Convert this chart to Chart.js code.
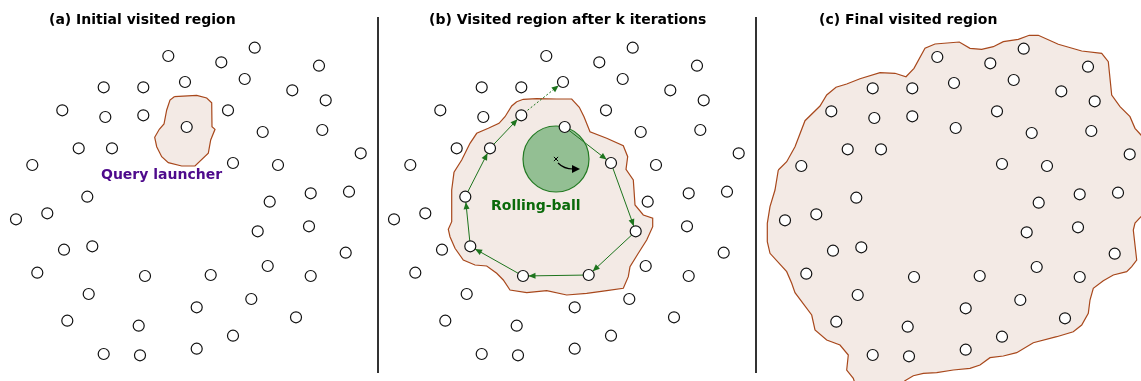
<!DOCTYPE html>
<html>
<head>
<meta charset="utf-8">
<script src="https://cdn.jsdelivr.net/npm/chart.js@4"></script>
<style>
  body { margin: 0; background: #fff; }
  #wrap { position: relative; width: 1141px; height: 381px; overflow: hidden; font-family: "DejaVu Sans", sans-serif; }
  canvas { position: absolute; top: 0; }
  .title { position: absolute; top: 11px; font-size: 14px; font-weight: bold; color: #000; white-space: nowrap; }
  .tag { position: absolute; font-size: 14px; font-weight: bold; white-space: nowrap; }
  .divider { position: absolute; top: 17px; width: 1.5px; height: 356px; background: #333; }
</style>
</head>
<body>
<div id="wrap">
  <canvas id="panelA" width="377" height="381" style="left:0"></canvas>
  <canvas id="panelB" width="377" height="381" style="left:378px"></canvas>
  <canvas id="panelC" width="385" height="381" style="left:756px"></canvas>
  <div class="divider" style="left:377px"></div>
  <div class="divider" style="left:755px"></div>
  <div class="title" style="left:49px">(a) Initial visited region</div>
  <div class="title" style="left:429px">(b) Visited region after k iterations</div>
  <div class="title" style="left:819px">(c) Final visited region</div>
  <div class="tag" style="left:101px; top:166px; color:#4e0a8c">Query launcher</div>
  <div class="tag" style="left:491px; top:197px; color:#0a6a0a">Rolling-ball</div>
</div>
<script>
// node positions (shared by all three panels, panel-local units)
const nodeX = [168.3, 254.7, 221.3, 319, 103.7, 143.3, 185, 244.7, 292.3, 325.7,
  62.3, 105.3, 143.3, 228, 186.7, 262.7, 322.3, 78.7, 112, 360.7,
  32.3, 233, 278, 310.7, 349, 87.3, 269.7, 16, 47.3, 257.7,
  309, 345.7, 64, 92.3, 37.3, 145, 210.7, 267.7, 310.7, 88.7,
  196.7, 251.3, 296, 67.3, 138.7, 233, 103.7, 140, 196.7];
const nodeY = [56, 47.7, 62.3, 65.7, 87.3, 87.3, 82, 79, 90.3, 100.3,
  110.3, 117, 115.3, 110.3, 127, 132, 130, 148.3, 148.3, 153.3,
  165, 163, 165, 193.3, 191.7, 196.7, 201.7, 219.3, 213.3, 231.3,
  226.3, 252.7, 249.7, 246.3, 272.7, 276, 275, 266, 276, 294,
  307.3, 299, 317.3, 320.7, 325.7, 335.7, 354, 355.3, 348.7];

// rolling-ball walk: node indices visited in order, then the tentative step
const walkPath = [14, 21, 29, 36, 35, 33, 25, 18, 12];
const nextStep = [12, 6];
const ballCenter = [178, 159];

// region outlines
const launcherRegion = [[174.3, 96.7], [196.7, 95.3], [206.7, 98], [211.7, 102.7], [212, 126.7], [215, 129.3],
  [210.7, 140], [208.3, 153.3], [195, 166], [181.7, 166], [168.3, 162.7], [161.7, 156.7], [156.7, 146.7],
  [154.7, 137.3], [159.3, 129.3], [164, 124], [166.7, 110], [170, 100]];
const iterRegion = [[138.7, 101.7], [145.3, 99.3], [158.7, 98.7], [178.7, 99], [193.7, 99], [201.3, 107.3],
  [206, 116.7], [209.3, 125], [212, 131.7], [228.7, 138.3], [245.3, 145.7], [249.7, 156.7], [248, 169.3],
  [255.3, 180], [256, 190], [257, 205], [265.3, 215], [274.7, 218.3], [274.7, 226.7], [268.7, 240],
  [260.3, 253.3], [252, 266.7], [250.3, 276.7], [245.3, 288.3], [228.7, 290.7], [208.7, 293.3], [188.7, 295],
  [168.7, 290.7], [148.7, 292.7], [132, 290], [125.3, 280], [118.7, 273.3], [108.7, 266], [97, 265],
  [85.3, 260], [77, 248.3], [72, 236.7], [70.3, 229.3], [73.7, 221.7], [73.7, 206.7], [73.7, 190],
  [76, 172.3], [83.7, 160], [92, 143.3], [98.7, 133.3], [110.3, 128.3], [121, 123.3], [127, 116.7], [133.7, 106]];
const finalRegion = [[9.3, 169], [17.7, 160.7], [26, 145.7], [36, 119.7], [51, 105], [57.7, 94], [67, 86.3],
  [77.7, 83], [91, 77.7], [111, 71.7], [126, 72.3], [137, 75.7], [145, 67.3], [156, 47.3], [166, 43],
  [190.3, 41], [201, 47.3], [212.7, 48.3], [224.3, 45.7], [234.3, 40.7], [249.3, 38.3], [260.3, 34.3],
  [269.3, 34.3], [289.3, 43.3], [312.7, 50], [332.7, 52.3], [339.3, 60.7], [342.7, 94], [351, 105.7],
  [361, 115.7], [366, 127.3], [372, 134], [385, 150], [385, 205], [372, 215.7], [366, 222], [364.3, 229],
  [367.7, 259], [362.7, 265.7], [357.7, 270.7], [344.3, 274], [334.3, 279.7], [324.3, 287.3], [321, 299],
  [319.3, 312.3], [312.7, 324], [304.3, 330.7], [287.7, 335.7], [264.3, 341.7], [247.7, 351.7], [234.3, 355],
  [221, 356.7], [211, 364], [201, 367.3], [184.3, 369], [167.7, 371.7], [154.3, 372.3], [144.3, 374.7],
  [136, 379.7], [120, 395], [90, 395], [84.3, 377.3], [77.7, 369], [79.3, 354], [71, 344], [57.7, 339],
  [46, 329], [42.7, 314], [26, 291.7], [22.7, 282.3], [17.7, 270.7], [1, 252.3], [-1.7, 240.7],
  [-1.7, 222.3], [1, 205.7], [6, 189]];

const nodes = nodeX.map((x, i) => ({ x, y: nodeY[i] }));
const closed = pts => pts.concat([pts[0]]).map(p => ({ x: p[0], y: p[1] }));

const WALK_GREEN = '#1d741d';
const NODE_R = 5.5;

function nodeDataset() {
  return {
    type: 'scatter', data: nodes, order: 0,
    pointRadius: NODE_R, pointBackgroundColor: '#fff', pointBorderColor: '#111', pointBorderWidth: 1.2
  };
}

function regionDataset(pts) {
  return {
    type: 'line', data: closed(pts), order: 10, fill: 'shape', tension: 0,
    backgroundColor: '#f3eae5', borderColor: '#a8481c', borderWidth: 1.2, pointRadius: 0
  };
}

// arrowheads at the end of each walk segment, plus the spin arrow inside the ball
const walkArrows = {
  id: 'walkArrows',
  afterDatasetsDraw(chart) {
    const ctx = chart.ctx;
    chart.data.datasets.forEach((ds, i) => {
      if (!ds.arrows) return;
      const pts = chart.getDatasetMeta(i).data;
      for (let k = 1; k < pts.length; k++) {
        const a = pts[k - 1], b = pts[k];
        const ang = Math.atan2(b.y - a.y, b.x - a.x);
        const tx = b.x - Math.cos(ang) * NODE_R, ty = b.y - Math.sin(ang) * NODE_R;
        ctx.save();
        ctx.translate(tx, ty);
        ctx.rotate(ang);
        ctx.fillStyle = WALK_GREEN;
        ctx.beginPath();
        ctx.moveTo(0, 0);
        ctx.lineTo(-7, -3);
        ctx.lineTo(-7, 3);
        ctx.closePath();
        ctx.fill();
        ctx.restore();
      }
    });
    const ball = chart.data.datasets.find(d => d.isBall);
    if (ball) {
      const cx = chart.scales.x.getPixelForValue(ball.data[0].x);
      const cy = chart.scales.y.getPixelForValue(ball.data[0].y);
      ctx.save();
      ctx.strokeStyle = '#000';
      ctx.fillStyle = '#000';
      ctx.lineWidth = 1.2;
      ctx.beginPath();
      ctx.moveTo(cx + 2, cy + 4);
      ctx.quadraticCurveTo(cx + 8, cy + 10, cx + 17, cy + 10);
      ctx.stroke();
      ctx.beginPath();
      ctx.moveTo(cx + 24, cy + 10);
      ctx.lineTo(cx + 16, cy + 6);
      ctx.lineTo(cx + 16, cy + 14);
      ctx.closePath();
      ctx.fill();
      ctx.restore();
    }
  }
};

function makePanel(id, datasets, xMin, xMax, yMin, yMax, plugins) {
  return new Chart(document.getElementById(id), {
    type: 'scatter',
    data: { datasets },
    options: {
      responsive: false, animation: false, devicePixelRatio: 1,
      layout: { padding: 0, autoPadding: false },
      plugins: { legend: { display: false }, tooltip: { enabled: false } },
      scales: {
        x: { type: 'linear', min: xMin, max: xMax, display: false },
        y: { type: 'linear', min: yMin, max: yMax, reverse: true, display: false }
      }
    },
    plugins: plugins || []
  });
}

makePanel('panelA', [nodeDataset(), regionDataset(launcherRegion)], 0, 377, 0, 381);

makePanel('panelB', [
  nodeDataset(),
  {
    type: 'line', data: walkPath.map(i => nodes[i]), order: 2, arrows: true, fill: false, tension: 0,
    borderColor: WALK_GREEN, borderWidth: 1, pointRadius: 0
  },
  {
    type: 'line', data: nextStep.map(i => nodes[i]), order: 2, arrows: true, fill: false, tension: 0,
    borderColor: WALK_GREEN, borderWidth: 1, borderDash: [2, 2], pointRadius: 0
  },
  {
    type: 'scatter', data: [{ x: ballCenter[0], y: ballCenter[1] }], order: 4,
    pointStyle: 'crossRot', pointRadius: 3, borderColor: '#000', pointBorderWidth: 1
  },
  {
    type: 'scatter', data: [{ x: ballCenter[0], y: ballCenter[1] }], order: 5, isBall: true,
    pointRadius: 33, pointBackgroundColor: '#93bf93', pointBorderColor: '#237a23', pointBorderWidth: 1.2
  },
  regionDataset(iterRegion)
], 0, 377, 0, 381, [walkArrows]);

makePanel('panelC', [nodeDataset(), regionDataset(finalRegion)], -13, 372, -1, 380);
</script>
</body>
</html>
